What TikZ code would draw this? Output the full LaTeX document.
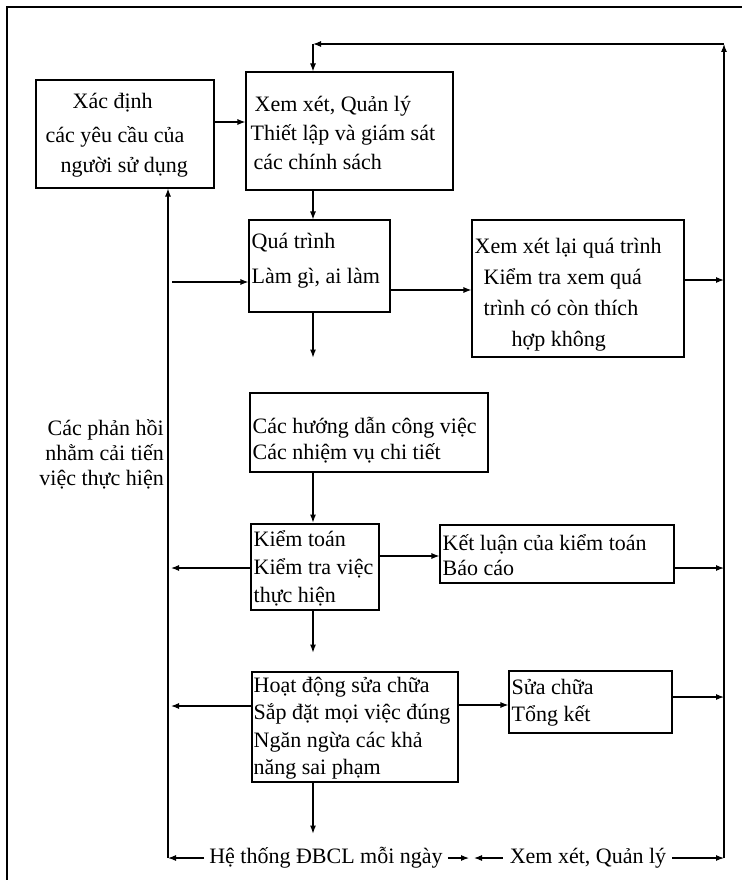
\documentclass[tikz,border=0pt]{standalone}
\usepackage{fontspec}
\setmainfont{Liberation Serif}
\usetikzlibrary{arrows.meta}
\begin{document}
\begin{tikzpicture}[x=1pt,y=-1pt,
  arr/.style={-{Latex[length=8pt,width=6pt]}, line width=1.1pt},
  ln/.style={line width=1.1pt},
  frame/.style={draw, line width=1.1pt, inner sep=0pt},
  txt/.style={inner sep=0pt, align=left, anchor=west},
  lbl/.style={inner sep=1pt, font=\fontsize{22}{29}\selectfont}]
\useasboundingbox (0,0) rectangle (742,880);
% outer frame
\draw[ln] (7,880) -- (7,7) -- (742,7);
% rails
\coordinate (L) at (168,0);
\coordinate (R) at (724,0);
\coordinate (M) at (313,0);
\coordinate (LB) at (168,858);
\coordinate (RB) at (724,858);
\coordinate (RT) at (724,44);
\coordinate (TC) at (313,44);
% box frames
\node[frame, minimum width=178pt, minimum height=108pt] (b1) at (125,134) {};
\node[frame, minimum width=207pt, minimum height=118pt] (b2) at (349.5,131) {};
\node[frame, minimum width=141pt, minimum height=92pt] (b3) at (319.5,266) {};
\node[frame, minimum width=212pt, minimum height=137pt] (b4) at (578,288.5) {};
\node[frame, minimum width=238pt, minimum height=79pt] (b5) at (369,432.5) {};
\node[frame, minimum width=128pt, minimum height=86pt] (b6) at (315,567) {};
\node[frame, minimum width=234pt, minimum height=58pt] (b7) at (557,554) {};
\node[frame, minimum width=206pt, minimum height=110pt] (b8) at (355,727) {};
\node[frame, minimum width=163pt, minimum height=62pt] (b9) at (590.5,702) {};
% box texts
\node[txt, font=\fontsize{22}{30}\selectfont] (t1) at ([xshift=10pt,yshift=-1pt]b1.west)
  {\hspace*{27pt}Xác định\\[4pt]các yêu cầu của\\\hspace*{15pt}người sử dụng};
\node[txt, font=\fontsize{22}{29}\selectfont] (t2) at ([xshift=5pt,yshift=-2pt]b2.west)
  {\hspace*{4pt}Xem xét, Quản lý\\Thiết lập và giám sát\\\hspace*{3pt}các chính sách};
\node[txt, font=\fontsize{22}{35}\selectfont] (t3) at ([xshift=3pt,yshift=5pt]b3.west)
  {Quá trình\\Làm gì, ai làm};
\node[txt, font=\fontsize{22}{31}\selectfont] (t4) at ([xshift=3pt,yshift=-6pt]b4.west)
  {Xem xét lại quá trình\\\hspace*{9pt}Kiểm tra xem quá\\\hspace*{9pt}trình có còn thích\\\hspace*{37pt}hợp không};
\node[txt, font=\fontsize{22}{26}\selectfont] (t5) at ([xshift=3pt,yshift=-8pt]b5.west)
  {Các hướng dẫn công việc\\Các nhiệm vụ chi tiết};
\node[txt, font=\fontsize{22}{28}\selectfont] (t6) at ([xshift=3pt,yshift=-1pt]b6.west)
  {Kiểm toán\\Kiểm tra việc\\thực hiện};
\node[txt, font=\fontsize{22}{25}\selectfont] (t7) at ([xshift=3pt,yshift=-1pt]b7.west)
  {Kết luận của kiểm toán\\Báo cáo};
\node[txt, font=\fontsize{22}{27.5}\selectfont] (t8) at ([xshift=2pt,yshift=-1pt]b8.west)
  {Hoạt động sửa chữa\\Sắp đặt mọi việc đúng\\Ngăn ngừa các khả\\năng sai phạm};
\node[txt, font=\fontsize{22}{27}\selectfont] (t9) at ([xshift=3pt,yshift=-1pt]b9.west)
  {Sửa chữa\\Tổng kết};
% side and bottom labels
\node[inner sep=0pt, anchor=east, align=right, font=\fontsize{22}{25}\selectfont] (fb) at (164,454)
  {Các phản hồi\\nhằm cải tiến\\việc thực hiện};
\node[lbl] (bl) at (326,858) {Hệ thống ĐBCL mỗi ngày};
\node[lbl] (br) at (588,858) {Xem xét, Quản lý};
% connectors
\draw[arr] (b1.east |- 0,122) -- (b2.west |- 0,122);
\draw[arr] (b2.south -| M) -- (b3.north -| M);
\draw[arr] (172,282) -- (b3.west |- 0,282);
\draw[arr] (b3.east |- 0,290) -- (b4.west |- 0,290);
\draw[arr] (b4.east |- 0,280) -- (R |- 0,280);
\draw[arr] (b3.south -| M) -- ++(0,45);
\draw[arr] (b5.south -| M) -- ++(0,50);
\draw[arr] (b6.west |- 0,568) -- (171,568);
\draw[arr] (b6.east |- 0,556) -- (b7.west |- 0,556);
\draw[arr] (b7.east |- 0,568) -- (R |- 0,568);
\draw[arr] (b6.south -| M) -- ++(0,42);
\draw[arr] (b8.west |- 0,706) -- (171,706);
\draw[arr] (b8.east |- 0,705) -- (b9.west |- 0,705);
\draw[arr] (b9.east |- 0,697) -- (R |- 0,697);
\draw[arr] (b8.south -| M) -- ++(0,51);
% feedback rail (left)
\draw[arr] (LB) -- (L |- b1.south);
\draw[arr] ([xshift=-4pt]bl.west) -- (LB);
% bottom middle
\draw[arr] ([xshift=4pt]bl.east) -- (469,858);
\draw[arr] ([xshift=-6pt]br.west) -- (474,858);
\draw[arr] ([xshift=5pt]br.east) -- (RB);
% right rail and top return
\draw[arr] (RB) -- (RT);
\draw[arr] (RT) -- (TC);
\draw[arr] (TC) -- (M |- b2.north);
\end{tikzpicture}
\end{document}
